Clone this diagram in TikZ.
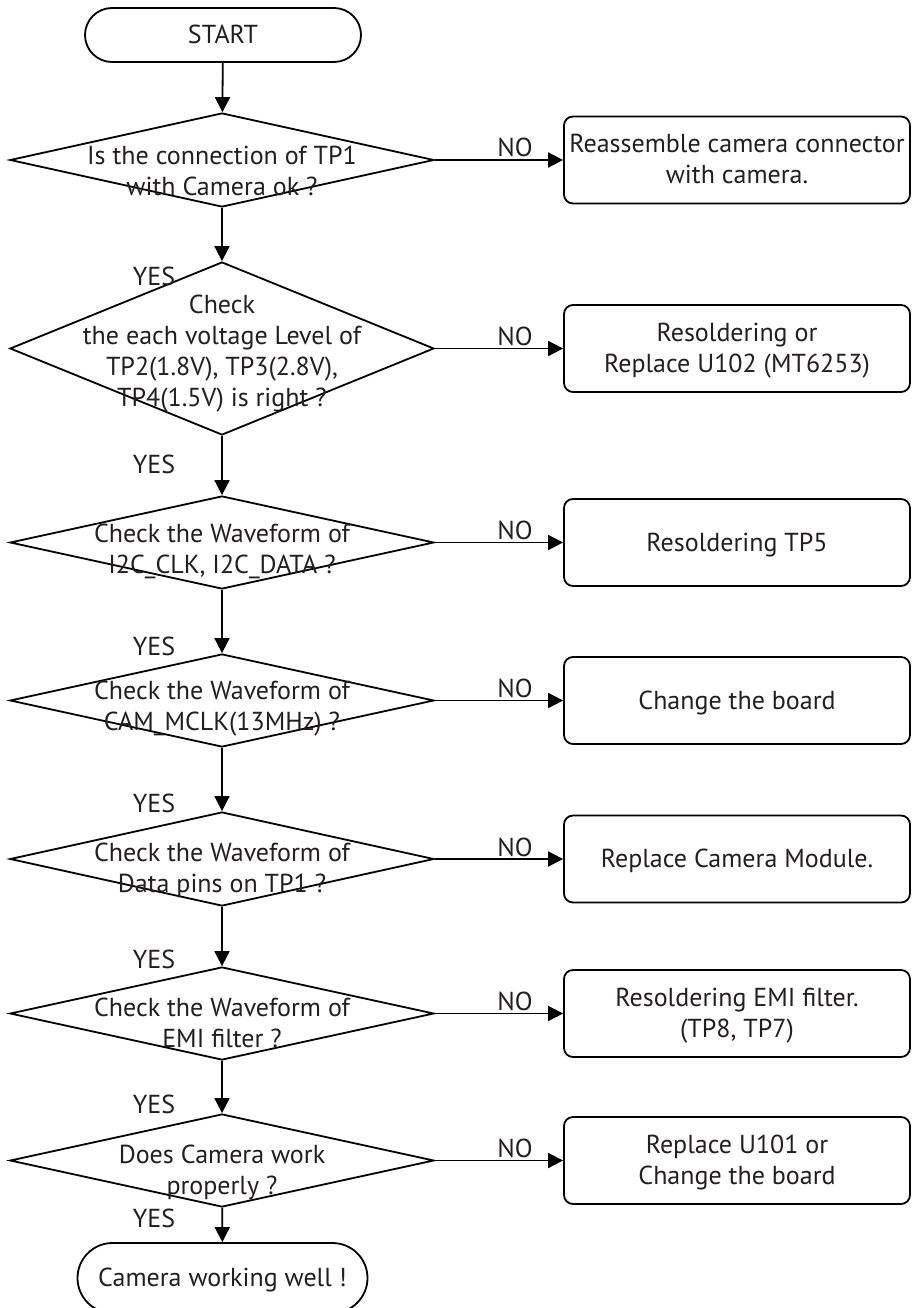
\documentclass[tikz,border=0pt]{standalone}
\usepackage{fontspec}
\setmainfont{PT Sans}
\usetikzlibrary{shapes.geometric,shapes.misc,arrows.meta}
\definecolor{txt}{HTML}{231F20}
\newcommand\setstrut{\setbox\strutbox\hbox{\vrule height24pt depth7pt width0pt}}
\newcommand\ml[1]{\begin{tabular}{@{}c@{}}#1\end{tabular}}
\begin{document}
\begin{tikzpicture}[x=1pt,y=-1pt,
  every node/.style={inner sep=0pt, text=txt, font=\fontsize{26}{31}\selectfont\setstrut},
  term/.style={rounded rectangle, draw=black, line width=1.8pt, minimum width=276pt, minimum height=54pt},
  dec/.style={diamond, draw=black, line width=1.8pt, minimum width=424pt, minimum height=94pt},
  act/.style={rectangle, rounded corners=9pt, draw=black, line width=1.8pt, minimum width=346pt, minimum height=87pt},
  lbl/.style={anchor=base},
  arr/.style={-{Triangle[length=15pt,width=15pt]}, line width=1.8pt, draw=black}]
\useasboundingbox (0,0) rectangle (912,1308);
\fill[white] (0,0) rectangle (912,1308);

% terminals
\node[term] (start) at (223,35) {\ml{START}};
\node[term, minimum width=290pt, minimum height=70pt] (stop) at (222.5,1278) {\ml{Camera working well !}};

% decisions
\node[dec] (d1) at (222,160) {};
\node[dec, minimum height=173pt] (d2) at (222,348.5) {};
\node[dec, minimum height=93pt] (d3) at (222,542.5) {};
\node[dec, minimum height=93pt] (d4) at (222,700.5) {};
\node[dec] (d5) at (222,859) {};
\node[dec, minimum height=93pt] (d6) at (222,1013.5) {};
\node[dec, minimum height=93pt] (d7) at (222,1160.5) {};

% decision texts
\node (q1) at (222,172) {\ml{Is the connection of TP1\\with Camera ok ?}};
\node (q2) at (222,351) {\ml{Check\\the each voltage Level of\\TP2(1.8V), TP3(2.8V),\\TP4(1.5V) is right ?}};
\node (q3) at (222,549.5) {\ml{Check the Waveform of\\I2C\_CLK, I2C\_DATA ?}};
\node (q4) at (222,706) {\ml{Check the Waveform of\\CAM\_MCLK(13MHz) ?}};
\node (q5) at (222,868) {\ml{Check the Waveform of\\Data pins on TP1 ?}};
\node (q6) at (222,1023) {\ml{Check the Waveform of\\EMI filter ?}};
\node (q7) at (222,1170) {\ml{Does Camera work\\properly ?}};

% actions
\node[act] (b1) at (737,160) {\ml{Reassemble camera connector\\with camera.}};
\node[act] (b2) at (737,348.5) {\ml{Resoldering or\\Replace U102 (MT6253)}};
\node[act] (b3) at (737,542.5) {\ml{Resoldering TP5}};
\node[act] (b4) at (737,700.5) {\ml{Change the board}};
\node[act] (b5) at (737,859) {\ml{Replace Camera Module.}};
\node[act] (b6) at (737,1013.5) {\ml{Resoldering EMI filter.\\(TP8, TP7)}};
\node[act] (b7) at (737,1160.5) {\ml{Replace U101 or\\Change the board}};

% vertical connectors
\draw[arr] (start) -- (d1);
\draw[arr] (d1) -- (d2);
\draw[arr] (d2) -- (d3);
\draw[arr] (d3) -- (d4);
\draw[arr] (d4) -- (d5);
\draw[arr] (d5) -- (d6);
\draw[arr] (d6) -- (d7);
\draw[arr] (d7) -- (stop);

% horizontal connectors
\draw[arr] (d1) -- (b1);
\draw[arr] (d2) -- (b2);
\draw[arr] (d3) -- (b3);
\draw[arr] (d4) -- (b4);
\draw[arr] (d5) -- (b5);
\draw[arr] (d6) -- (b6);
\draw[arr] (d7) -- (b7);

% YES labels
\node[lbl] (y1) at (154,285) {YES};
\node[lbl] (y2) at (154,473) {YES};
\node[lbl] (y3) at (154,655) {YES};
\node[lbl] (y4) at (154,812) {YES};
\node[lbl] (y5) at (154,968) {YES};
\node[lbl] (y6) at (154,1113) {YES};
\node[lbl] (y7) at (154,1227) {YES};

% NO labels
\node[lbl] (n1) at (515,157) {NO};
\node[lbl] (n2) at (515,345.5) {NO};
\node[lbl] (n3) at (515,539.5) {NO};
\node[lbl] (n4) at (515,697.5) {NO};
\node[lbl] (n5) at (515,856) {NO};
\node[lbl] (n6) at (515,1010.5) {NO};
\node[lbl] (n7) at (515,1157.5) {NO};
\end{tikzpicture}
\end{document}
